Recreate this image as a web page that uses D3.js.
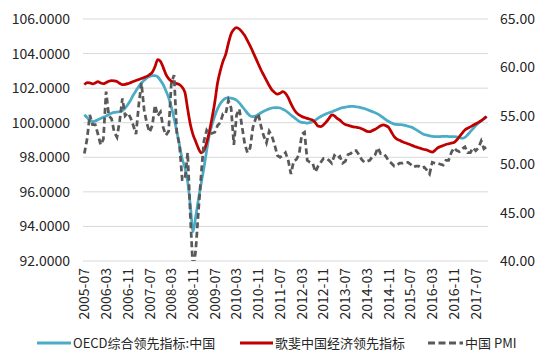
<!DOCTYPE html>
<html>
<head>
<meta charset="utf-8">
<script src="https://cdn.jsdelivr.net/npm/d3@7"></script>
<style>
  body { margin: 0; background: #fff; }
  text { font-family: "Noto Sans CJK SC", "Noto Sans", sans-serif; fill: #262626; }
</style>
</head>
<body>
<div id="chart"></div>
<script>
// month labels 2005-07 .. 2017-11
var startYear = 2005, startMonth = 7, nMonths = 149;
var months = [];
for (var k = 0; k < nMonths; k++) {
  var m = startMonth - 1 + k;
  var yy = startYear + Math.floor(m / 12), mm = (m % 12) + 1;
  months.push(yy + "-" + (mm < 10 ? "0" + mm : mm));
}

var xTickLabels = ["2005-07","2006-03","2006-11","2007-07","2008-03","2008-11","2009-07","2010-03","2010-11",
  "2011-07","2012-03","2012-11","2013-07","2014-03","2014-11","2015-07","2016-03","2016-11","2017-07"];
var leftTicks = [92, 94, 96, 98, 100, 102, 104, 106];
var rightTicks = [40, 45, 50, 55, 60, 65];

var seriesNames = ["OECD综合领先指标:中国", "歌斐中国经济领先指标", "中国 PMI"];

// OECD CLI china (left axis)
var oecd = [100.46,100.30,100.15,100.06,100.10,100.17,100.25,100.32,100.38,100.48,100.55,100.60,
  100.62,100.63,100.70,100.85,101.05,101.30,101.60,101.85,102.10,102.30,102.45,102.60,
  102.68,102.72,102.72,102.65,102.45,102.20,101.85,101.45,100.90,100.25,99.50,98.70,
  97.90,97.40,96.60,95.20,93.70,94.60,95.60,96.50,97.40,98.40,99.30,99.90,
  100.40,100.80,101.10,101.30,101.42,101.45,101.42,101.38,101.30,101.15,100.95,100.75,
  100.55,100.40,100.35,100.38,100.48,100.58,100.66,100.74,100.80,100.85,100.87,100.87,
  100.85,100.78,100.70,100.58,100.45,100.32,100.20,100.08,100.02,100.00,99.98,100.00,
  100.05,100.15,100.26,100.36,100.45,100.52,100.58,100.63,100.70,100.76,100.82,100.87,
  100.90,100.93,100.94,100.94,100.92,100.90,100.86,100.82,100.76,100.70,100.64,100.58,
  100.50,100.40,100.28,100.17,100.07,99.98,99.92,99.90,99.89,99.88,99.85,99.80,
  99.76,99.70,99.60,99.50,99.40,99.32,99.28,99.24,99.21,99.19,99.19,99.20,
  99.21,99.21,99.20,99.19,99.19,99.18,99.14,99.10,99.15,99.30,99.48,99.66,
  99.84,99.98,100.10,100.22,100.35];

// 歌斐 leading index (left axis)
var gopher = [102.20,102.32,102.30,102.25,102.30,102.38,102.30,102.26,102.32,102.40,102.43,102.42,
  102.38,102.28,102.20,102.22,102.26,102.32,102.38,102.44,102.50,102.56,102.62,102.68,
  102.78,102.92,103.25,103.65,103.55,103.20,102.80,102.55,102.40,102.32,102.26,102.20,
  102.05,101.75,100.80,99.90,99.30,98.90,98.50,98.25,98.40,98.85,99.50,100.30,
  101.20,102.30,103.00,103.55,103.95,104.60,105.15,105.40,105.50,105.42,105.25,105.05,
  104.75,104.45,104.10,103.75,103.40,103.05,102.75,102.45,102.15,101.90,101.75,101.65,
  101.70,101.80,101.70,101.45,101.10,100.80,100.58,100.45,100.36,100.30,100.25,100.20,
  100.15,100.00,99.80,99.78,99.88,100.05,100.25,100.45,100.40,100.25,100.15,100.00,
  99.90,99.85,99.80,99.76,99.74,99.71,99.65,99.58,99.50,99.48,99.55,99.62,
  99.72,99.82,99.88,99.82,99.72,99.45,99.20,99.05,98.98,98.90,98.84,98.78,
  98.72,98.66,98.60,98.55,98.50,98.45,98.42,98.35,98.30,98.40,98.55,98.62,
  98.68,98.74,98.78,98.82,98.86,99.00,99.20,99.40,99.58,99.68,99.76,99.85,
  99.94,100.02,100.12,100.24,100.35];

// China PMI (right axis)
var pmi = [51.1,52.6,55.1,54.1,54.1,53.1,
  52.0,52.6,57.5,55.0,54.7,53.3,52.8,54.5,56.8,55.0,55.3,54.8,
  54.0,53.1,56.1,58.4,55.6,54.2,53.3,54.0,56.1,55.0,55.4,53.8,
  53.0,53.4,58.4,59.2,53.3,52.0,48.4,48.4,51.2,44.6,38.8,41.2,
  45.3,49.0,52.4,53.5,53.1,53.2,53.3,54.0,54.3,55.2,55.2,56.6,
  55.8,52.0,55.1,55.7,53.9,52.1,51.2,51.7,53.8,54.7,55.2,53.9,
  52.9,52.2,53.4,52.9,52.0,50.9,50.7,50.9,51.2,50.4,49.0,50.3,
  50.5,51.0,53.1,53.3,50.4,50.2,50.1,49.2,49.8,50.2,50.6,50.6,
  50.4,50.1,50.9,50.6,50.8,50.1,50.3,51.0,51.1,51.4,51.4,51.0,
  50.5,50.2,50.3,50.4,50.8,51.0,51.7,51.1,51.1,50.8,50.3,50.1,
  49.8,49.9,50.1,50.1,50.2,50.2,50.0,49.7,49.8,49.8,49.6,49.7,
  49.4,49.0,50.2,50.1,50.1,50.0,49.9,50.4,50.4,51.2,51.7,51.4,
  51.3,51.6,51.8,51.2,51.2,51.7,51.4,51.7,52.4,51.6,51.8];

var W = 550, H = 361;
var plotLeft = 83, plotRight = 488, plotTop = 19, plotBottom = 261;
var fontFam = '"Noto Sans CJK SC", "Noto Sans", sans-serif';

var svg = d3.select("#chart").append("svg")
  .attr("width", W)
  .attr("height", H);

var x = d3.scaleBand().domain(months).range([plotLeft, plotRight]);
var yL = d3.scaleLinear().domain([92, 106]).range([plotBottom, plotTop]);
var yR = d3.scaleLinear().domain([40, 65]).range([plotBottom, plotTop]);

// gridlines
svg.selectAll(".grid")
  .data(leftTicks)
  .enter()
  .append("line")
  .attr("class", "grid")
  .attr("x1", plotLeft)
  .attr("x2", plotRight)
  .attr("y1", function(d) { return yL(d); })
  .attr("y2", function(d) { return yL(d); })
  .attr("stroke", "#d9d9d9")
  .attr("stroke-width", 1);

// axes
var gl = svg.append("g")
  .attr("transform", "translate(" + plotLeft + ",0)")
  .call(d3.axisLeft(yL).tickValues(leftTicks).tickFormat(d3.format(".4f")).tickSize(0).tickPadding(13));
var gr = svg.append("g")
  .attr("transform", "translate(" + plotRight + ",0)")
  .call(d3.axisRight(yR).tickValues(rightTicks).tickFormat(d3.format(".2f")).tickSize(0).tickPadding(12));
[gl, gr].forEach(function(g) {
  g.select(".domain").remove();
  g.selectAll("text").attr("font-size", "14px").attr("fill", "#262626")
    .style("font-family", fontFam);
});

var gx = svg.append("g")
  .attr("transform", "translate(0," + plotBottom + ")")
  .call(d3.axisBottom(x).tickValues(xTickLabels).tickSize(0).tickPadding(0));
gx.select(".domain").remove();
gx.selectAll("text")
  .attr("font-size", "14px")
  .attr("fill", "#262626")
  .style("font-family", fontFam)
  .attr("text-anchor", "end")
  .attr("dy", "0.35em")
  .attr("transform", "translate(0,7) rotate(-90)")
  .attr("x", 0)
  .attr("y", 0);

svg.append("clipPath").attr("id", "plotclip")
  .append("rect")
  .attr("x", plotLeft).attr("y", plotTop - 2)
  .attr("width", plotRight - plotLeft).attr("height", plotBottom - plotTop + 2);

var cx = function(d, i) { return x(months[i]) + x.bandwidth() / 2; };

var lineL = d3.line().x(cx).y(function(d) { return yL(d); }).curve(d3.curveMonotoneX);
var lineR = d3.line().x(cx).y(function(d) { return yR(d); });

var plot = svg.append("g").attr("clip-path", "url(#plotclip)");

plot.append("path")
  .datum(oecd)
  .attr("d", lineL)
  .attr("fill", "none")
  .attr("stroke", "#4bacc6")
  .attr("stroke-width", 2.75);

plot.append("path")
  .datum(gopher)
  .attr("d", lineL)
  .attr("fill", "none")
  .attr("stroke", "#c00000")
  .attr("stroke-width", 2.75);

plot.append("path")
  .datum(pmi)
  .attr("d", lineR)
  .attr("fill", "none")
  .attr("stroke", "#595959")
  .attr("stroke-width", 2.75)
  .attr("stroke-dasharray", "6,3.5");

// legend
var legendItems = [
  {name: seriesNames[0], color: "#4bacc6", dash: null, x1: 37, x2: 71},
  {name: seriesNames[1], color: "#c00000", dash: null, x1: 240, x2: 273},
  {name: seriesNames[2], color: "#595959", dash: "7,3.5", x1: 428, x2: 463}
];
var ly = 343;
var leg = svg.selectAll(".legend")
  .data(legendItems)
  .enter()
  .append("g")
  .attr("class", "legend");
leg.append("line")
  .attr("x1", function(d) { return d.x1; })
  .attr("x2", function(d) { return d.x2; })
  .attr("y1", ly).attr("y2", ly)
  .attr("stroke", function(d) { return d.color; })
  .attr("stroke-width", 3)
  .attr("stroke-dasharray", function(d) { return d.dash; });
leg.append("text")
  .attr("x", function(d) { return d.x2 + 2; })
  .attr("y", ly)
  .attr("dy", "0.35em")
  .attr("font-size", "13px")
  .text(function(d) { return d.name; });
</script>
</body>
</html>
